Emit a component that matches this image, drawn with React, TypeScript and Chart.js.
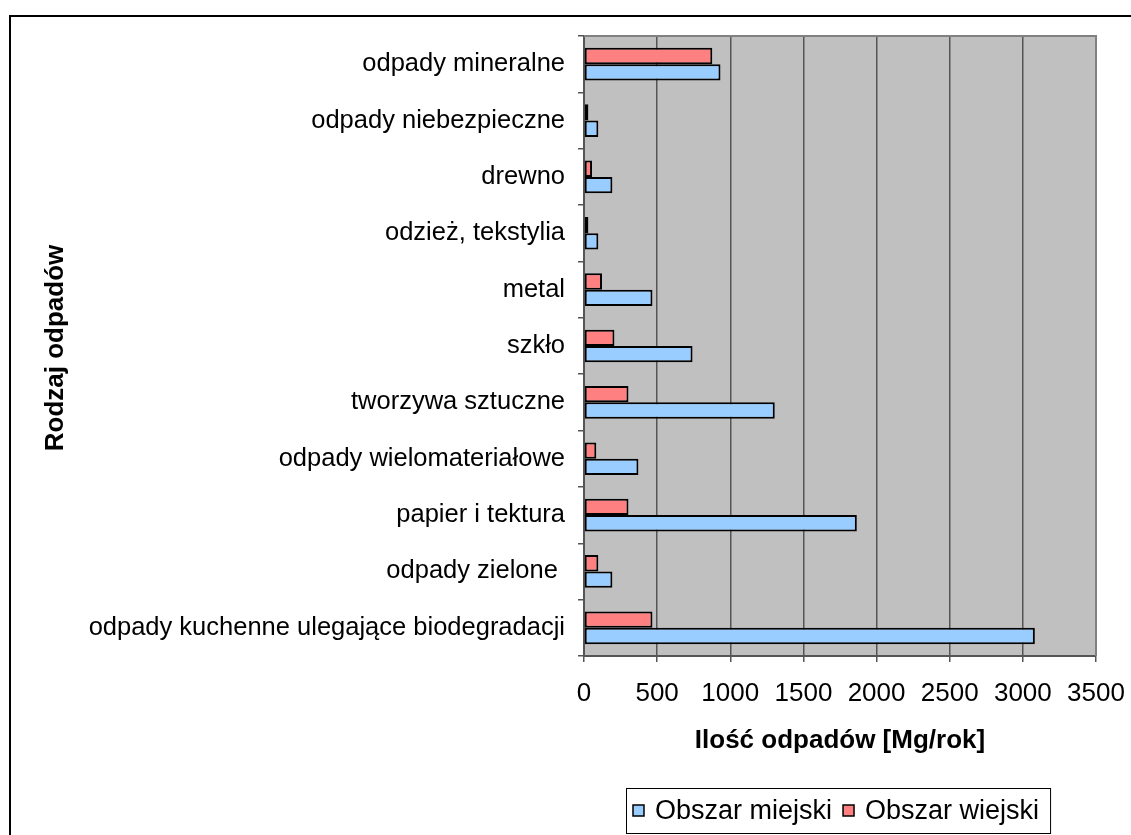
import React, { useEffect, useRef } from "react";
import { Chart, registerables } from "chart.js";

Chart.register(...registerables);

const categories = [
  "odpady mineralne",
  "odpady niebezpieczne",
  "drewno",
  "odzież, tekstylia",
  "metal",
  "szkło",
  "tworzywa sztuczne",
  "odpady wielomateriałowe",
  "papier i tektura",
  "odpady zielone ",
  "odpady kuchenne ulegające biodegradacji",
];

const miejski = [933, 98, 194, 98, 468, 742, 1304, 372, 1865, 194, 3082];
const wiejski = [877, 30, 55, 30, 123, 208, 304, 84, 304, 98, 468];

const seriesNames = ["Obszar miejski", "Obszar wiejski"];
const xTicks = [0, 500, 1000, 1500, 2000, 2500, 3000, 3500];
const xTitle = "Ilość odpadów [Mg/rok]";
const yTitle = "Rodzaj odpadów";

const BLUE = "#99CCFF";
const RED = "#FF8080";
const FONT = '"Liberation Sans", Arial, sans-serif';
const FS = 26;

const decorPlugin = {
  id: "decor",
  beforeDraw(chart: any) {
    const { ctx, chartArea, width, height } = chart;
    ctx.save();
    ctx.fillStyle = "#ffffff";
    ctx.fillRect(0, 0, width, height);
    ctx.fillStyle = "#C0C0C0";
    ctx.fillRect(chartArea.left, chartArea.top, chartArea.right - chartArea.left, chartArea.bottom - chartArea.top);
    ctx.restore();
  },
  beforeDatasetsDraw(chart: any) {
    const { ctx, chartArea } = chart;
    ctx.save();
    ctx.strokeStyle = "#808080";
    ctx.lineWidth = 2;
    ctx.beginPath();
    ctx.moveTo(chartArea.left, chartArea.top);
    ctx.lineTo(chartArea.right, chartArea.top);
    ctx.lineTo(chartArea.right, chartArea.bottom);
    ctx.stroke();
    ctx.restore();
  },
  afterDraw(chart: any) {
    const { ctx, chartArea } = chart;
    ctx.save();
    // outer frame
    ctx.strokeStyle = "#000";
    ctx.lineWidth = 2;
    ctx.strokeRect(10, 16, 1400, 1000);

    // titles
    ctx.fillStyle = "#000";
    ctx.font = `bold ${FS}px ${FONT}`;
    ctx.textAlign = "center";
    ctx.textBaseline = "middle";
    ctx.fillText(xTitle, (chartArea.left + chartArea.right) / 2, 741);
    ctx.save();
    ctx.translate(56, 348);
    ctx.rotate(-Math.PI / 2);
    ctx.fillText(yTitle, 0, 0);
    ctx.restore();

    // legend
    ctx.font = `27px ${FONT}`;
    ctx.textAlign = "left";
    const colors = [BLUE, RED];
    const sq = 11;
    const boxLeft = 626;
    const boxTop = 788;
    const boxH = 45;
    const cy = boxTop + boxH / 2;
    let x = boxLeft + 7;
    seriesNames.forEach((name, i) => {
      ctx.fillStyle = colors[i];
      ctx.fillRect(x, cy - sq / 2, sq, sq);
      ctx.strokeStyle = "#000";
      ctx.lineWidth = 1.5;
      ctx.strokeRect(x, cy - sq / 2, sq, sq);
      x += sq + 11;
      ctx.fillStyle = "#000";
      ctx.fillText(name, x, cy + 1);
      x += ctx.measureText(name).width + 11;
    });
    const boxRight = x;
    ctx.strokeStyle = "#000";
    ctx.lineWidth = 1;
    ctx.strokeRect(boxLeft + 0.5, boxTop + 0.5, boxRight - boxLeft, boxH);
    ctx.restore();
  },
};

export default function App() {
  const ref = useRef<HTMLCanvasElement>(null);
  useEffect(() => {
    if (!ref.current) return;
    const chart = new Chart(ref.current, {
      type: "bar",
      data: {
        labels: categories,
        datasets: [
          {
            label: seriesNames[1],
            data: wiejski,
            backgroundColor: RED,
            borderColor: "#000",
            borderWidth: 2,
            borderSkipped: false,
            categoryPercentage: 0.58,
            barPercentage: 1,
          },
          {
            label: seriesNames[0],
            data: miejski,
            backgroundColor: BLUE,
            borderColor: "#000",
            borderWidth: 2,
            borderSkipped: false,
            categoryPercentage: 0.58,
            barPercentage: 1,
          },
        ],
      },
      options: {
        indexAxis: "y",
        responsive: false,
        animation: false,
        devicePixelRatio: 1,
        layout: { padding: { left: 0, top: 36, right: 35, bottom: 0 } },
        plugins: {
          legend: { display: false },
          tooltip: { enabled: false },
          title: { display: false },
        },
        scales: {
          x: {
            min: 0,
            max: 3500,
            afterFit: (s: any) => {
              s.height = 179;
              s.paddingLeft = 0;
              s.paddingRight = 0;
            },
            afterBuildTicks: (s: any) => {
              s.ticks = xTicks.map((v) => ({ value: v }));
            },
            grid: { color: "#555", lineWidth: 1.5, tickLength: 6, drawTicks: true },
            border: { color: "#555", width: 2 },
            ticks: {
              color: "#000",
              font: { size: FS, family: FONT },
              padding: 16,
              maxRotation: 0,
              callback: (v: any) => String(v),
            },
          },
          y: {
            afterFit: (s: any) => {
              s.width = 584;
              s.paddingTop = 0;
              s.paddingBottom = 0;
            },
            grid: { drawOnChartArea: false, drawTicks: true, tickLength: 6, color: "#555", lineWidth: 1.5, offset: true },
            border: { color: "#555", width: 2 },
            ticks: {
              color: "#000",
              font: { size: 25.5, family: FONT },
              padding: 13,
              autoSkip: false,
            },
          },
        },
      },
      plugins: [decorPlugin],
    });
    return () => chart.destroy();
  }, []);
  return (
    <div style={{ position: "fixed", left: 0, top: 0, width: 1131, height: 835 }}>
      <canvas ref={ref} width={1131} height={835} style={{ width: 1131, height: 835, display: "block" }} />
    </div>
  );
}
